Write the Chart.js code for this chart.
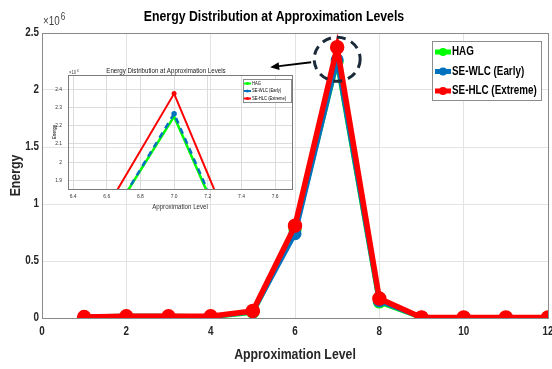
<!DOCTYPE html>
<html>
<head>
<meta charset="utf-8">
<script src="https://cdn.jsdelivr.net/npm/chart.js@4.4.0/dist/chart.umd.min.js"></script>
<style>
body{margin:0;background:#fff;}
#wrap{position:relative;width:552px;height:369px;}
#inset{position:absolute;left:40px;top:60px;}
</style>
</head>
<body>
<div id="wrap">
<canvas id="main" width="552" height="369"></canvas>
<canvas id="inset" width="262" height="152"></canvas>
</div>
<script>
var levels = [1, 2, 3, 4, 5, 6, 7, 8, 9, 10, 11, 12];
var hag    = [10000, 15000, 15000, 10000, 50000, 770000, 2250000, 140000, 5000, 5000, 5000, 5000];
var seWlc  = [10000, 15000, 15000, 12000, 55000, 740000, 2265000, 150000, 6000, 5000, 5000, 5000];
var seHlc  = [8000, 15000, 15000, 15000, 62000, 810000, 2375000, 170000, 5000, 5000, 5000, 5000];
var seriesNames = ['HAG', 'SE-WLC (Early)', 'SE-HLC (Extreme)'];
var seriesColors = ['#00ff00', '#0072bd', '#ff0000'];

var xTicks = [0, 2, 4, 6, 8, 10, 12];
var yTicks = [0, 500000, 1000000, 1500000, 2000000, 2500000];
var insetXTicks = [6.4, 6.6, 6.8, 7, 7.2, 7.4, 7.6];
var insetYTicks = [1900000, 2000000, 2100000, 2200000, 2300000, 2400000];

var FONT = "'Liberation Sans', Arial, sans-serif";
Chart.defaults.font.family = FONT;
Chart.defaults.color = '#262626';

// the source figure uses a narrow face; squeeze text horizontally round its anchor
var SQUEEZE = 0.82;
var baseFillText = CanvasRenderingContext2D.prototype.fillText;
CanvasRenderingContext2D.prototype.fillText = function(text, x, y, maxWidth) {
	this.save();
	this.translate(x, y);
	this.scale(SQUEEZE, 1);
	if (maxWidth === undefined) baseFillText.call(this, text, 0, 0);
	else baseFillText.call(this, text, 0, 0, maxWidth / SQUEEZE);
	this.restore();
};

function pts(vals) {
	return levels.map(function(x, i){ return {x: x, y: vals[i]}; });
}

function fmtM(v) {
	return String(Math.round(v / 1e6 * 100) / 100);
}

function drawLegend(ctx, box, o) {
	ctx.save();
	ctx.fillStyle = '#fff';
	ctx.fillRect(box.x, box.y, box.w, box.h);
	ctx.strokeStyle = '#8c8c8c';
	ctx.lineWidth = 1;
	ctx.strokeRect(box.x + 0.5, box.y + 0.5, box.w, box.h);
	ctx.font = o.font;
	ctx.textBaseline = 'middle';
	for (var i = 0; i < 3; i++) {
		var y = box.y + o.first + i * o.step;
		ctx.strokeStyle = seriesColors[i];
		ctx.fillStyle = seriesColors[i];
		ctx.lineWidth = o.lw;
		ctx.beginPath();
		ctx.moveTo(box.x + o.lx0, y);
		ctx.lineTo(box.x + o.lx1, y);
		ctx.stroke();
		ctx.beginPath();
		ctx.arc(box.x + (o.lx0 + o.lx1) / 2, y, o.r, 0, Math.PI * 2);
		ctx.fill();
		ctx.fillStyle = '#000';
		ctx.fillText(seriesNames[i], box.x + o.tx, y);
	}
	ctx.restore();
}

function frameBox(chart, color) {
	var a = chart.chartArea, ctx = chart.ctx;
	ctx.save();
	ctx.strokeStyle = color;
	ctx.lineWidth = 1;
	ctx.strokeRect(Math.round(a.left) + 0.5, Math.round(a.top) + 0.5, Math.round(a.right - a.left), Math.round(a.bottom - a.top));
	ctx.restore();
}

function exponent(ctx, x, y, big, small) {
	ctx.save();
	ctx.fillStyle = '#404040';
	ctx.textBaseline = 'alphabetic';
	ctx.font = big + 'px ' + FONT;
	ctx.fillText('\u00d710', x, y);
	var w = ctx.measureText('\u00d710').width * SQUEEZE;
	ctx.font = small + 'px ' + FONT;
	ctx.fillText('6', x + w + 1, y - big * 0.45);
	ctx.restore();
}

function noPad(s) {
	s.paddingLeft = 0; s.paddingRight = 0; s.paddingTop = 0; s.paddingBottom = 0;
}

var mainPlugin = {
	id: 'mainDecor',
	beforeDatasetsDraw: function(chart) {
		frameBox(chart, '#8a8a8a');
	},
	afterDatasetsDraw: function(chart) {
		var ctx = chart.ctx, xs = chart.scales.x, ys = chart.scales.y;
		var cx = xs.getPixelForValue(7), cy = ys.getPixelForValue(2270000);
		ctx.save();
		// dashed circle round the peak
		ctx.strokeStyle = '#1b2a38';
		ctx.lineWidth = 3;
		ctx.setLineDash([9, 6]);
		ctx.beginPath();
		ctx.ellipse(cx, cy, 23, 22, 0, 0, Math.PI * 2);
		ctx.stroke();
		ctx.setLineDash([]);
		// arrow pointing to the inset
		var x0 = cx - 26, y0 = cy + 3, x1 = cx - 67, y1 = cy + 8;
		var len = Math.hypot(x1 - x0, y1 - y0);
		var ux = (x1 - x0) / len, uy = (y1 - y0) / len;
		var bx = x1 - ux * 9, by = y1 - uy * 9;
		ctx.strokeStyle = '#000';
		ctx.fillStyle = '#000';
		ctx.lineWidth = 2;
		ctx.beginPath();
		ctx.moveTo(x0, y0);
		ctx.lineTo(bx, by);
		ctx.stroke();
		ctx.beginPath();
		ctx.moveTo(x1, y1);
		ctx.lineTo(bx - uy * 4, by + ux * 4);
		ctx.lineTo(bx + uy * 4, by - ux * 4);
		ctx.closePath();
		ctx.fill();
		ctx.restore();
	},
	afterDraw: function(chart) {
		var a = chart.chartArea;
		exponent(chart.ctx, a.left + 1, a.top - 8, 12, 10);
		drawLegend(chart.ctx, {x: a.right - 116, y: a.top + 8, w: 109, h: 59},
			{font: 'bold 12px ' + FONT, first: 11, step: 19.5, lx0: 3, lx1: 19, lw: 5, r: 4, tx: 20});
	}
};

var insetPlugin = {
	id: 'insetDecor',
	beforeDatasetsDraw: function(chart) {
		frameBox(chart, '#7a7a7a');
	},
	afterDraw: function(chart) {
		var a = chart.chartArea;
		exponent(chart.ctx, a.left + 1, a.top - 1, 5, 4);
		drawLegend(chart.ctx, {x: a.right - 49, y: a.top + 4, w: 48, h: 23},
			{font: '5px ' + FONT, first: 4.5, step: 7.5, lx0: 1, lx1: 8, lw: 2, r: 1.5, tx: 9});
	}
};

new Chart(document.getElementById('main'), {
	type: 'line',
	data: {
		datasets: [
			{label: seriesNames[0], data: pts(hag), borderColor: seriesColors[0], backgroundColor: seriesColors[0], borderWidth: 5, pointRadius: 4, order: 2},
			{label: seriesNames[1], data: pts(seWlc), borderColor: seriesColors[1], backgroundColor: seriesColors[1], borderWidth: 5, pointRadius: 4, order: 1},
			{label: seriesNames[2], data: pts(seHlc), borderColor: seriesColors[2], backgroundColor: seriesColors[2], borderWidth: 5.5, pointRadius: 4.5, order: 0}
		]
	},
	options: {
		responsive: false,
		animation: false,
		layout: {padding: {left: 0, right: 4, top: 0, bottom: 0}, autoPadding: false},
		plugins: {
			legend: {display: false},
			tooltip: {enabled: false},
			title: {
				display: true,
				text: 'Energy Distribution at Approximation Levels',
				color: '#000',
				font: {size: 15, weight: 'bold'},
				padding: {top: 8, bottom: 7}
			}
		},
		scales: {
			x: {
				type: 'linear',
				min: 0, max: 12,
				afterBuildTicks: function(s){ s.ticks = xTicks.map(function(v){ return {value: v}; }); },
				afterFit: function(s){ s.height = 51; noPad(s); },
				ticks: {padding: 6, color: '#262626', font: {size: 12, weight: 'bold'}, maxRotation: 0},
				grid: {color: '#e3e3e3', drawTicks: false},
				border: {color: '#8a8a8a'},
				title: {display: true, text: 'Approximation Level', color: '#262626', font: {size: 15, weight: 'bold'}, padding: {top: 0, bottom: 5}}
			},
			y: {
				min: 0, max: 2500000,
				afterBuildTicks: function(s){ s.ticks = yTicks.map(function(v){ return {value: v}; }); },
				afterFit: function(s){ s.width = 42; noPad(s); },
				ticks: {padding: 3, color: '#262626', font: {size: 12, weight: 'bold'}, callback: function(v){ return fmtM(v); }},
				grid: {color: '#e3e3e3', drawTicks: false},
				border: {color: '#8a8a8a'},
				title: {display: true, text: 'Energy', color: '#262626', font: {size: 15, weight: 'bold'}, padding: {top: 7, bottom: 0}}
			}
		}
	},
	plugins: [mainPlugin]
});

new Chart(document.getElementById('inset'), {
	type: 'line',
	data: {
		datasets: [
			{label: seriesNames[0], data: pts(hag), borderColor: seriesColors[0], backgroundColor: seriesColors[0], borderWidth: 2.5, pointRadius: 0, order: 2},
			{label: seriesNames[1], data: pts(seWlc), borderColor: seriesColors[1], backgroundColor: seriesColors[1], borderWidth: 2.5, borderDash: [6, 5], pointRadius: 1.5, order: 1},
			{label: seriesNames[2], data: pts(seHlc), borderColor: seriesColors[2], backgroundColor: seriesColors[2], borderWidth: 2, pointRadius: 1.5, order: 0}
		]
	},
	options: {
		responsive: false,
		animation: false,
		layout: {padding: {left: 0, right: 10, top: 0, bottom: 0}, autoPadding: false},
		plugins: {
			legend: {display: false},
			tooltip: {enabled: false},
			title: {
				display: true,
				text: 'Energy Distribution at Approximation Levels',
				color: '#222',
				font: {size: 7.5, weight: 'normal'},
				padding: {top: 6, bottom: 0}
			}
		},
		scales: {
			x: {
				type: 'linear',
				min: 6.37, max: 7.7,
				afterBuildTicks: function(s){ s.ticks = insetXTicks.map(function(v){ return {value: v}; }); },
				afterFit: function(s){ s.height = 23; noPad(s); },
				ticks: {padding: 4, color: '#333', font: {size: 6}, maxRotation: 0},
				grid: {color: '#dcdcdc', drawTicks: false},
				border: {color: '#7a7a7a'},
				title: {display: true, text: 'Approximation Level', color: '#333', font: {size: 7.5}, padding: {top: 0, bottom: 1}}
			},
			y: {
				min: 1852000, max: 2477000,
				afterBuildTicks: function(s){ s.ticks = insetYTicks.map(function(v){ return {value: v}; }); },
				afterFit: function(s){ s.width = 28; noPad(s); },
				ticks: {padding: 6, color: '#333', font: {size: 6}, callback: function(v){ return fmtM(v); }},
				grid: {color: '#dcdcdc', drawTicks: false},
				border: {color: '#7a7a7a'},
				title: {display: true, text: 'Energy', color: '#333', font: {size: 5, weight: 'bold'}, padding: {top: 12, bottom: 0}}
			}
		}
	},
	plugins: [insetPlugin]
});
</script>
</body>
</html>
